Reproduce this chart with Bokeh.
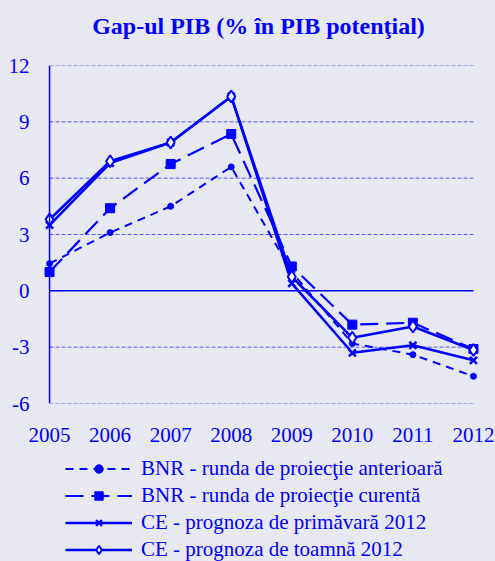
from bokeh.plotting import figure
from bokeh.layouts import column
from bokeh.models import Legend, LegendItem, FixedTicker, Span, Range1d, Label
from bokeh.embed import file_html
from bokeh.resources import INLINE

years = [2005, 2006, 2007, 2008, 2009, 2010, 2011, 2012]
bnr_anterioara = [1.45, 3.1, 4.5, 6.6, 1.0, -2.8, -3.4, -4.55]
bnr_curenta = [1.0, 4.4, 6.75, 8.35, 1.3, -1.8, -1.7, -3.1]
ce_primavara = [3.5, 6.8, 7.9, 10.35, 0.4, -3.3, -2.9, -3.7]
ce_toamna = [3.8, 6.9, 7.9, 10.35, 0.75, -2.5, -1.9, -3.15]
y_ticks = [-6, -3, 0, 3, 6, 9, 12]
title_text = "Gap-ul PIB (% în PIB potenţial)"
labels = ["BNR - runda de proiecţie anterioară",
          "BNR - runda de proiecţie curentă",
          "CE - prognoza de primăvară 2012",
          "CE - prognoza de toamnă 2012"]

BG = "#E8E8F2"
BLUE = "#0000FF"
FONT = "Liberation Serif"

series = [
    (bnr_anterioara, dict(line_width=2, line_dash="8 6"),
     dict(marker="circle", size=6, color=BLUE)),
    (bnr_curenta, dict(line_width=2.2, line_dash="18 8"),
     dict(marker="square", size=9, color=BLUE)),
    (ce_primavara, dict(line_width=2.5),
     dict(marker="x", size=10, line_color=BLUE, line_width=2.5)),
    (ce_toamna, dict(line_width=2.5),
     dict(marker="diamond", size=12, line_color=BLUE, fill_color="white", line_width=2)),
]


def bare(fig):
    fig.xaxis.visible = False
    fig.yaxis.visible = False
    fig.xgrid.visible = False
    fig.ygrid.visible = False


# title strip
t = figure(width=495, height=40, output_backend="svg", toolbar_location=None, title=None,
           x_range=Range1d(0, 1), y_range=Range1d(0, 1),
           min_border_left=0, min_border_right=0, min_border_top=0, min_border_bottom=0,
           background_fill_color=BG, border_fill_color=BG, outline_line_color=None)
bare(t)
t.add_layout(Label(x=215, y=15, x_units="screen", y_units="screen", text=title_text,
                   text_align="center", text_baseline="middle",
                   text_font=FONT, text_font_style="bold", text_font_size="24px",
                   text_color=BLUE))

# main chart
p = figure(width=495, height=410, output_backend="svg", toolbar_location=None,
           x_range=Range1d(2004.9, 2012.1), y_range=Range1d(-6, 12),
           min_border_left=43, min_border_right=16, min_border_top=25, min_border_bottom=47,
           background_fill_color=BG, border_fill_color=BG, outline_line_color=None)
p.xgrid.visible = False
p.ygrid.visible = False

grid_y = [v for v in y_ticks if v != 0]
p.segment(x0=[years[0]] * len(grid_y), x1=[years[-1]] * len(grid_y), y0=grid_y, y1=grid_y,
          line_color="#5A5AF0", line_width=1, line_dash="4 2")
p.segment(x0=[years[0]], x1=[years[-1]], y0=[0], y1=[0], line_color=BLUE, line_width=1.5)
p.add_layout(Span(location=years[0], dimension="height", line_color=BLUE, line_width=1.5))

p.xaxis.ticker = FixedTicker(ticks=years)
p.xaxis.axis_line_color = None
p.xaxis.major_tick_line_color = None
p.xaxis.minor_tick_line_color = None
p.xaxis.major_label_text_font = FONT
p.xaxis.major_label_text_font_size = "21px"
p.xaxis.major_label_text_color = BLUE
p.xaxis.major_label_standoff = 18

p.yaxis.ticker = FixedTicker(ticks=y_ticks)
p.yaxis.major_label_overrides = {v: str(v) for v in y_ticks}
p.yaxis.axis_line_color = None
p.yaxis.major_tick_line_color = None
p.yaxis.minor_tick_line_color = None
p.yaxis.major_tick_out = 0
p.yaxis.minor_tick_out = 0
p.yaxis.major_label_text_font = FONT
p.yaxis.major_label_text_font_size = "21px"
p.yaxis.major_label_text_color = BLUE
p.yaxis.major_label_standoff = 14

for vals, lkw, mkw in series:
    p.line(years, vals, line_color=BLUE, **lkw)
    p.scatter(years, vals, **mkw)

# legend strip: same series drawn out of view, only their legend glyphs show
q = figure(width=495, height=111, output_backend="svg", toolbar_location=None,
           x_range=Range1d(0, 1), y_range=Range1d(100, 101),
           min_border_left=0, min_border_right=0, min_border_top=0, min_border_bottom=0,
           background_fill_color=BG, border_fill_color=BG, outline_line_color=None)
bare(q)

items = []
for (vals, lkw, mkw), lab in zip(series, labels):
    rl = q.line(years, vals, line_color=BLUE, **lkw)
    rm = q.scatter(years, vals, **mkw)
    items.append(LegendItem(label=lab, renderers=[rl, rm]))

legend = Legend(items=items, location=(22, -1), orientation="vertical",
                glyph_width=67, glyph_height=21, label_height=21, spacing=2,
                label_standoff=9, padding=0, margin=0,
                border_line_color=None, background_fill_alpha=0,
                label_text_font=FONT, label_text_font_size="21px", label_text_color=BLUE)
q.add_layout(legend, "center")

layout = column(t, p, q, spacing=0, styles={"background-color": BG})
html = file_html(layout, INLINE)
html = html.replace("</head>", "<style>html, body { background-color: %s; }</style></head>" % BG, 1)
open("out.html", "w").write(html)
